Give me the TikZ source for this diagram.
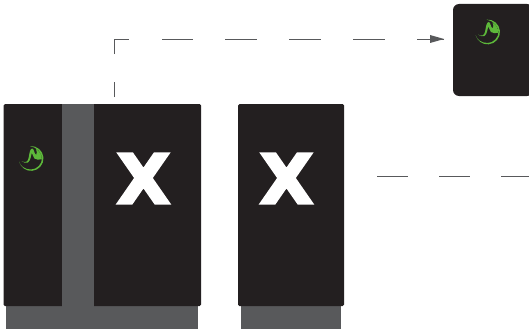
\documentclass[tikz,border=0pt]{standalone}
\usepackage{fontspec}
\setmainfont{DejaVu Sans}
\newfontfamily\heavyface[FakeBold=3.4]{DejaVu Sans Bold}
\usetikzlibrary{arrows.meta}
\definecolor{boxdark}{HTML}{231F20}
\definecolor{slate}{HTML}{58595B}
\definecolor{leaf}{HTML}{5DB83A}
\tikzset{
  panel/.style={fill=boxdark,draw=none,rounded corners=1.5pt,inner sep=0pt,outer sep=0pt,anchor=north west},
  plinth/.style={fill=slate,draw=none,inner sep=0pt,outer sep=0pt,anchor=north west},
  bigx/.style={text=white,font=\heavyface,inner sep=0pt,outer sep=0pt},
  wire/.style={draw=slate,line width=0.9pt},
  logomark/.pic={
    % crescent ring
    \fill[leaf] (-1,-12.4) arc[start angle=-95,end angle=165,radius=12.4]
      .. controls (-10.5,7.4) and (-6.5,11) .. (0,11)
      .. controls (6,11) and (11,5.5) .. (11,0)
      .. controls (11,-5) and (6,-11.5) .. (-1,-12.4) -- cycle;
    % wave
    \fill[leaf] (-9.4,2.6) .. controls (-5.5,4.8) and (-3.2,3.2) .. (-2.4,-0.5)
      .. controls (-1.6,-4.5) and (-1.2,-10) .. (1.2,-10)
      .. controls (3.2,-10) and (3,-4.5) .. (5.2,-3.6)
      .. controls (6.2,-5) and (6,-7) .. (5,-9.5)
      .. controls (9,-7) and (11,-3) .. (10.8,0.8)
      .. controls (8,1.4) and (5,1.4) .. (3.4,0)
      .. controls (2.2,-1.2) and (1.6,-4.5) .. (0.9,-5.6)
      .. controls (0,-4) and (-0.2,2.6) .. (-3.2,4)
      .. controls (-5,4.8) and (-7.8,4.2) .. (-9.4,2.6) -- cycle;
  }
}
\begin{document}
\begin{tikzpicture}[x=1pt,y=-1pt]
\useasboundingbox (0,0) rectangle (529,329);
% bases
\node[plinth,minimum width=192pt,minimum height=23pt] (baseA) at (6,306) {};
\node[plinth,minimum width=100pt,minimum height=23pt] (baseB) at (241,306) {};
% cabinets
\node[panel,minimum width=197.5pt,minimum height=202pt] (cabA) at (3.5,104) {};
\node[panel,minimum width=106pt,minimum height=202pt] (cabB) at (238,104) {};
\node[panel,rounded corners=6pt,minimum width=80pt,minimum height=92pt] (cabC) at (453,4) {};
% column
\node[plinth,minimum width=32pt,minimum height=203pt] (column) at (62,104) {};
% letters
\node[bigx] (xA) at (143.5,178.5) {\resizebox{54pt}{50pt}{X}};
\node[bigx] (xB) at (286.5,178.5) {\resizebox{54pt}{50pt}{X}};
% logos
\pic at (31,158.5) {logomark};
\pic at (487.5,32) {logomark};
% connectors
\coordinate (startA) at (114,97);
\coordinate (bend) at (114,39);
\coordinate (endA) at (444,39);
\coordinate (startB) at (377,176);
\coordinate (endB) at (529,176);
\draw[wire,dash pattern=on 15pt off 28pt on 30pt off 33pt on 31pt off 32pt on 32pt off 32pt on 32pt off 32pt on 32pt off 32pt on 40pt] (startA) -- (bend) -- (endA);
\fill[slate] (endA) -- ++(-14,-4) -- ++(0,8) -- cycle;
\draw[wire,dash pattern=on 31pt off 31pt] (startB) -- (endB);
\end{tikzpicture}
\end{document}
